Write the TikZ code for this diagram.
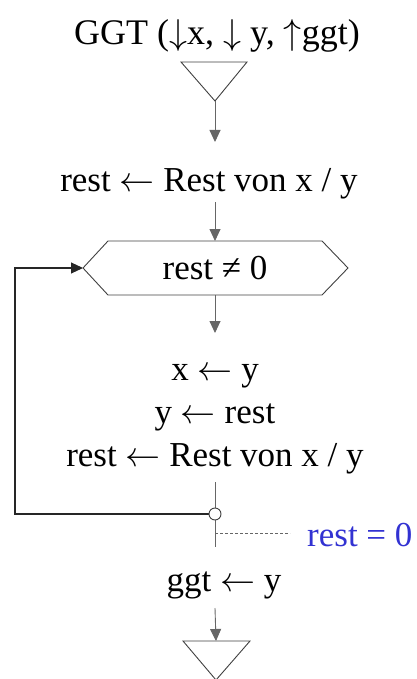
\RequirePackage{fix-cm}
\documentclass[tikz,border=0pt]{standalone}
\usepackage{fontspec}
\setmainfont{Liberation Serif}
\usetikzlibrary{arrows.meta}
\definecolor{labelblue}{RGB}{50,50,210}
\newcommand{\la}{\ensuremath{\leftarrow}}
\begin{document}
\begin{tikzpicture}[x=1pt,y=-1pt,
  txt/.style={font=\fontsize{35}{40}\selectfont, inner sep=0pt, anchor=base},
  shapeline/.style={draw=black!75, line width=0.9pt},
  conn/.style={draw=black!60, line width=0.9pt},
  loopline/.style={draw=black!85, line width=1.1pt},
  arr/.style={conn, -{Triangle[length=12pt,width=11pt]}},
  looparr/.style={loopline, -{Triangle[length=12pt,width=11pt]}}]
\useasboundingbox (0,0) rectangle (417,679);
% header
\node[txt, font=\fontsize{36}{40}\selectfont] (title) at (217,45) {GGT ($\downarrow$x, $\downarrow$ y, $\uparrow$ggt)};
\coordinate (t1a) at (181,62);
\coordinate (t1b) at (247,62);
\coordinate (t1apex) at (215,101);
\draw[shapeline, fill=white] (t1a) -- (t1b) -- (t1apex) -- cycle;
\coordinate (a1end) at (215,142);
\draw[arr] (t1apex) -- (a1end);
% first statement
\node[txt] (s1) at (209,191) {rest \la{} Rest von x / y};
\coordinate (s1out) at (215,202);
% loop condition hexagon
\coordinate (hexL) at (83,268);
\coordinate (hexT) at (215,241);
\coordinate (hexB) at (215,295);
\draw[shapeline] (hexL) -- (108,241) -- (322,241) -- (348,268) -- (322,295) -- (108,295) -- cycle;
\node[txt] (cond) at (215,279) {rest ≠ 0};
\draw[arr] (s1out) -- (hexT);
\coordinate (a2end) at (215,333);
\draw[arr] (hexB) -- (a2end);
% loop body
\node[txt] (b1) at (215,380) {x \la{} y};
\node[txt] (b2) at (215,423) {y \la{} rest};
\node[txt] (b3) at (215,466) {rest \la{} Rest von x / y};
\coordinate (bout) at (215,482);
\coordinate (jn) at (215,514);
\coordinate (loopBL) at (15,514);
\coordinate (loopTL) at (15,268);
\coordinate (exitend) at (215,547);
\draw[conn] (bout) -- (jn);
\draw[conn] (jn) -- (exitend);
\draw[looparr] (jn) -- (loopBL) -- (loopTL) -- (hexL);
\draw[shapeline, fill=white] (jn) circle (6pt);
% exit
\coordinate (dashS) at (215,533);
\coordinate (dashE) at (290,533);
\draw[conn, dashed, line width=0.7pt, dash pattern=on 3pt off 2pt] (dashS) -- (dashE);
\node[txt, anchor=base west, text=labelblue] (exitlbl) at (307,546) {rest = 0};
% result
\node[txt] (res) at (224,591) {ggt \la{} y};
\coordinate (a3start) at (215,608);
\coordinate (t2a) at (183,641);
\coordinate (t2b) at (250,641);
\coordinate (t2top) at (216,641);
\coordinate (t2apex) at (216,680);
\draw[shapeline, fill=white] (t2a) -- (t2b) -- (t2apex) -- cycle;
\draw[arr] (a3start) -- (t2top);
\end{tikzpicture}
\end{document}
